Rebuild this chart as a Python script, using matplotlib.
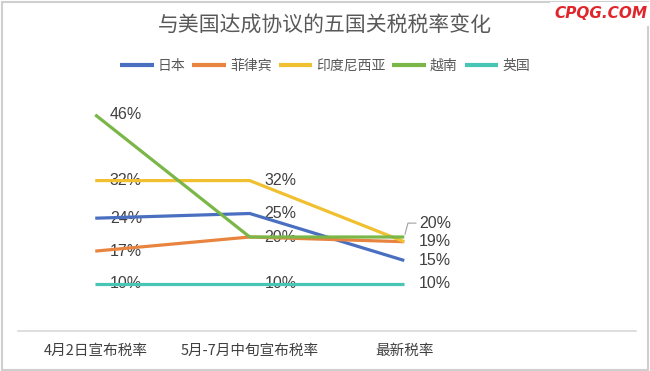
import matplotlib
matplotlib.use('agg')
import matplotlib.pyplot as plt
from matplotlib.patches import Rectangle

plt.rcParams['font.family'] = ['Noto Sans CJK SC', 'DejaVu Sans']

categories = ["4月2日宣布税率", "5月-7月中旬宣布税率", "最新税率"]
series_names = ["日本", "菲律宾", "印度尼西亚", "越南", "英国"]
japan = [24, 25, 15]
philippines = [17, 20, 19]
indonesia = [32, 32, 19]
vietnam = [46, 20, 20]
uk = [10, 10, 10]
all_values = [japan, philippines, indonesia, vietnam, uk]

colors = ['#4a6fc0', '#e8843f', '#f0c030', '#7ab648', '#47c5b5']

# which values get a text label: (series index, category index)
labels = [(3, 0), (2, 0), (0, 0), (1, 0), (4, 0),
          (2, 1), (0, 1), (3, 1), (4, 1),
          (2, 2), (0, 2), (4, 2)]

fig = plt.figure(figsize=(6.5, 3.71), dpi=100)
ax = fig.add_axes([18 / 650, 1 - 331 / 371, 618 / 650, 235 / 371])

x = list(range(len(categories)))
lines = []
for vals, name, c in zip(all_values, series_names, colors):
    ln, = ax.plot(x, vals, color=c, lw=2.3, solid_capstyle='butt', zorder=3, label=name)
    lines.append(ln)

lab_font = dict(fontsize=11.5, color='#404040', family=['Liberation Sans', 'DejaVu Sans'])
for s, i in labels:
    v = all_values[s][i]
    ax.annotate(f"{v}%", (i, v), xytext=(10.5, 0), textcoords='offset points',
                ha='left', va='center', zorder=2, **lab_font)

# 越南 latest value label with leader line
ax.annotate(f"{vietnam[2]}%", (2, vietnam[2]), xytext=(10.5, 10), textcoords='offset points',
            ha='left', va='center', zorder=2,
            arrowprops=dict(arrowstyle='-', color='#a0a0a0', lw=0.8,
                            shrinkA=0, shrinkB=2,
                            connectionstyle='angle,angleA=180,angleB=75,rad=0'),
            **lab_font)

ax.set_xlim(-0.5, 3.5)
ax.set_ylim(0, 50)
ax.set_xticks(x)
ax.set_xticklabels(categories, fontsize=10.5, color='#404040')
ax.tick_params(axis='x', length=0, pad=9)
ax.set_yticks([])
for sp in ['top', 'right', 'left']:
    ax.spines[sp].set_visible(False)
ax.spines['bottom'].set_color('#d9d9d9')
ax.spines['bottom'].set_linewidth(1.2)

fig.text(0.5, 1 - 25 / 371, "与美国达成协议的五国关税税率变化", ha='center', va='center',
         fontsize=15, color='#595959')
leg = fig.legend(handles=lines, loc='center', bbox_to_anchor=(0.5, 1 - 66 / 371), ncol=5,
                 frameon=False, fontsize=10, handlelength=2.4, handletextpad=0.3,
                 columnspacing=0.5, labelcolor='#595959')
for h in leg.legend_handles:
    h.set_linewidth(3)

fig.patches.append(Rectangle((0.003, 0.004), 0.994, 0.99, transform=fig.transFigure,
                             fill=False, edgecolor='#cfcfcf', lw=1.5))
fig.text(601 / 650, 1 - 14 / 371, "CPQG.COM", ha='center', va='center', fontsize=11,
         color='#e0262b', fontweight='bold', style='italic', family='DejaVu Sans',
         bbox=dict(facecolor='white', edgecolor='none', pad=3))

fig.savefig('out.png', dpi=100)
